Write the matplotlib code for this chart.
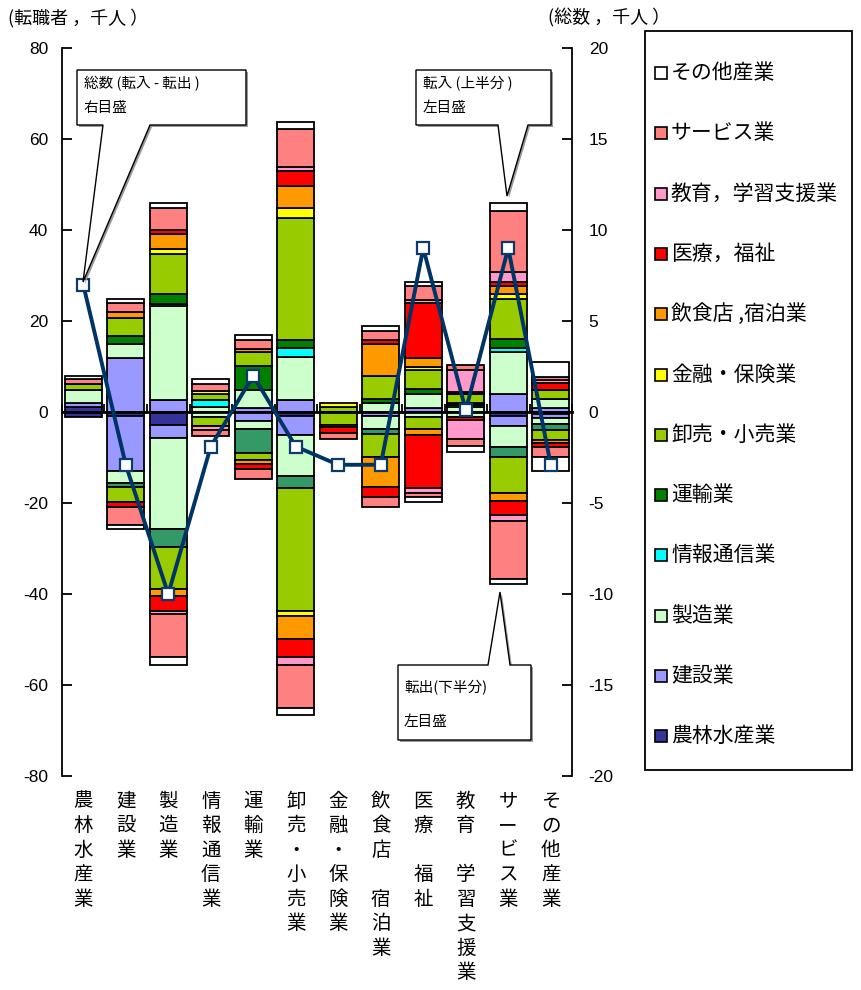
import matplotlib
matplotlib.use("Agg")
import matplotlib.pyplot as plt
from matplotlib.patches import Polygon, Rectangle
import numpy as np

plt.rcParams['font.family'] = ['Noto Sans CJK JP', 'DejaVu Sans']
plt.rcParams['axes.unicode_minus'] = False

industries = ["農林水産業", "建設業", "製造業", "情報通信業", "運輸業", "卸売・小売業",
              "金融・保険業", "飲食店，宿泊業", "医療，福祉", "教育，学習支援業", "サービス業", "その他産業"]
axis_labels = ["農林水産業", "建設業", "製造業", "情報通信業", "運輸業", "卸売・小売業",
               "金融・保険業", "飲食店 宿泊業", "医療 福祉", "教育 学習支援業", "サービス業", "その他産業"]
legend_labels = ["農林水産業", "建設業", "製造業", "情報通信業", "運輸業", "卸売・小売業",
                 "金融・保険業", "飲食店 ,宿泊業", "医療，福祉", "教育，学習支援業", "サービス業", "その他産業"]

colors_in = ["#333399", "#9999FF", "#CCFFCC", "#00FFFF", "#008000", "#99CC00",
             "#FFFF00", "#FF9900", "#FF0000", "#FF99CC", "#FF8080", "#FFFFFF"]
colors_out = ["#333399", "#9999FF", "#CCFFCC", "#00FFFF", "#339966", "#99CC00",
              "#FFFF00", "#FF9900", "#FF0000", "#FF99CC", "#FF8080", "#FFFFFF"]

# 転入 (thousand persons), one list per previous industry, values per bar
in_agri = [1.1, 0, 0, 0, 0, 0, 0, 0, 0, 0, 0, 0]
in_constr = [0.9, 11.8, 2.7, 0, 0.8, 2.7, 0, 0, 0.9, 0, 4.0, 0.9]
in_manuf = [2.9, 3.1, 20.6, 1.0, 4.0, 9.3, 0, 1.9, 3.1, 1.1, 9.2, 1.9]
in_info = [0, 0, 0.5, 1.6, 0, 2.1, 0, 0, 0, 0.5, 0.9, 0]
in_trans = [0, 1.8, 2.1, 0, 5.4, 1.8, 0, 0.9, 1.0, 0.3, 1.9, 0]
in_trade = [1.3, 3.9, 8.9, 1.4, 3.0, 26.8, 1.0, 5.1, 4.3, 2.0, 8.8, 2.1]
in_fin = [0, 0, 1.1, 0.6, 0, 2.2, 0.9, 0, 0.6, 0, 1.1, 0]
in_food = [0, 1.4, 3.3, 0, 0.6, 4.7, 0, 7.0, 2.0, 0, 1.7, 0]
in_med = [0, 0, 0.9, 0, 0, 3.3, 0, 1.0, 12.1, 0.6, 1.0, 1.4]
in_edu = [0, 0, 0, 0, 0, 0.9, 0, 0, 0.6, 4.8, 2.2, 0.7]
in_serv = [1.0, 1.9, 4.8, 1.6, 2.1, 8.3, 0, 2.0, 3.2, 1.0, 13.3, 0.8]
in_other = [0.8, 0.9, 1.0, 1.1, 1.0, 1.7, 0, 1.1, 0.8, 0, 1.8, 3.2]

# 転出 (thousand persons), one list per next industry, values per bar
out_agri = [1.0, 0.9, 2.9, 0, 0, 0.8, 0, 0, 0, 0, 0.9, 0.4]
out_constr = [0, 12.0, 2.9, 0, 1.9, 4.3, 0, 0.9, 0, 0, 2.1, 1.0]
out_manuf = [0, 2.6, 20.0, 1.0, 1.9, 8.9, 0, 2.8, 1.2, 1.1, 4.8, 1.3]
out_info = [0, 0, 0, 0, 0, 0, 0, 0, 0, 0, 0, 0]
out_trans = [0, 0.9, 3.9, 0, 5.3, 2.6, 0, 1.2, 0, 0, 2.0, 1.3]
out_trade = [0, 3.4, 9.3, 2.0, 1.5, 27.2, 2.8, 5.0, 2.6, 0, 8.1, 2.2]
out_fin = [0, 0, 0, 0, 0, 1.0, 0.6, 0, 0, 0, 0, 0]
out_food = [0, 0, 1.5, 0, 0.8, 5.1, 0, 6.6, 1.2, 0, 1.6, 0.6]
out_med = [0, 1.1, 3.2, 0, 1.2, 4.0, 1.3, 2.2, 11.6, 0.7, 3.2, 0.8]
out_edu = [0, 0, 0.8, 0.9, 0, 1.7, 0, 0, 1.2, 4.1, 1.2, 0]
out_serv = [0, 4.0, 9.4, 1.4, 2.1, 9.4, 1.3, 2.2, 0.9, 1.6, 12.9, 2.3]
out_other = [0, 0.8, 1.6, 0, 0, 1.6, 0, 0, 1.0, 1.4, 0.9, 3.0]

# 総数 (転入 - 転出), right axis
net_total = [7.0, -2.9, -10.0, -1.9, 2.0, -1.9, -2.9, -2.9, 9.0, 0.1, 9.0, -2.9]

series_in = [in_agri, in_constr, in_manuf, in_info, in_trans, in_trade,
             in_fin, in_food, in_med, in_edu, in_serv, in_other]
series_out = [out_agri, out_constr, out_manuf, out_info, out_trans, out_trade,
              out_fin, out_food, out_med, out_edu, out_serv, out_other]

fig = plt.figure(figsize=(8.62, 9.9), dpi=100)
ax = fig.add_axes([62 / 862, 1 - 776 / 990, 510 / 862, 728 / 990])

x = np.arange(len(industries))
width = 0.88

bottom = np.zeros(len(x))
for vals, col in zip(series_in, colors_in):
    v = np.array(vals, dtype=float)
    m = v > 0
    ax.bar(x[m], v[m], width, bottom=bottom[m], color=col, edgecolor="black",
           linewidth=1.3, zorder=2)
    bottom += v

bottom = np.zeros(len(x))
for vals, col in zip(series_out, colors_out):
    v = -np.array(vals, dtype=float)
    m = v < 0
    ax.bar(x[m], v[m], width, bottom=bottom[m], color=col, edgecolor="black",
           linewidth=1.3, zorder=2)
    bottom += v

ax.set_xlim(-0.5, len(x) - 0.5)
ax.set_ylim(-80, 80)
ax.set_yticks(np.arange(-80, 81, 20))
ax.spines["top"].set_visible(False)
ax.spines["bottom"].set_position(("data", 0))
ax.spines["bottom"].set_linewidth(2)
ax.spines["bottom"].set_zorder(3)
ax.spines["left"].set_linewidth(1.3)
ax.spines["right"].set_visible(False)
ax.set_xticks(np.arange(-0.5, len(x), 1))
ax.tick_params(axis="x", direction="in", length=6, width=1.3, labelbottom=False)
ax.tick_params(axis="y", direction="in", length=7, width=1.3, labelsize=12.5, pad=10)
for lab in ax.get_yticklabels():
    lab.set_fontfamily("Liberation Sans")

ax2 = ax.twinx()
ax2.set_ylim(-20, 20)
ax2.set_yticks(np.arange(-20, 21, 5))
for s in ["top", "bottom", "left"]:
    ax2.spines[s].set_visible(False)
ax2.spines["right"].set_linewidth(1.3)
ax2.tick_params(axis="y", direction="in", length=7, width=1.3, labelsize=12.5, pad=12)
for lab in ax2.get_yticklabels():
    lab.set_fontfamily("Liberation Sans")
ax2.plot(x, net_total, color="#003366", linewidth=2.8, marker="s", markersize=9,
         markerfacecolor="white", markeredgecolor="#0B3A6B", markeredgewidth=1.6, zorder=5)

# vertical category labels
for xi, name in zip(x, axis_labels):
    ax.text(xi, -83.2, "\n".join(name), ha="center", va="top", fontsize=14,
            linespacing=1.22, transform=ax.transData, clip_on=False)

# overlay in pixel coordinates for legend, callouts and axis titles
ov = fig.add_axes([0, 0, 1, 1], facecolor="none")
ov.set_xlim(0, 862)
ov.set_ylim(990, 0)
ov.axis("off")

ov.text(8, 18, "(転職者 ，千人 ）", fontsize=13, va="center", ha="left")
ov.text(548, 18, "(総数 ，千人 ）", fontsize=13, va="center", ha="left")

# legend
ov.add_patch(Rectangle((645, 31), 207, 739, facecolor="white", edgecolor="black", linewidth=1.3))
for i in range(len(industries)):
    k = len(industries) - 1 - i
    yc = 73 + i * 60.3
    ov.add_patch(Rectangle((655, yc - 6), 12, 12, facecolor=colors_in[k],
                           edgecolor="black", linewidth=1.2))
    ov.text(671, yc, legend_labels[k], fontsize=15, va="center", ha="left")


def callout(pts, shadow=True):
    if shadow:
        ov.add_patch(Polygon([(px + 2, py + 2) for px, py in pts], closed=True,
                             facecolor="#999999", edgecolor="none"))
    ov.add_patch(Polygon(pts, closed=True, facecolor="white", edgecolor="black", linewidth=1.0))


callout([(77, 70), (246, 70), (246, 125), (150, 125), (83, 282), (103, 125), (77, 125)])
ov.text(84, 84, "総数 (転入 - 転出 )", fontsize=10.5, va="center")
ov.text(84, 108, "右目盛", fontsize=10.5, va="center")

callout([(416, 70), (551, 70), (551, 125), (528, 125), (507, 196), (498, 125), (416, 125)])
ov.text(423, 84, "転入 (上半分 )", fontsize=10.5, va="center")
ov.text(423, 108, "左目盛", fontsize=10.5, va="center")

callout([(398, 665), (488, 665), (500, 592), (510, 665), (531, 665), (531, 740), (398, 740)])
ov.text(404, 688, "転出(下半分)", fontsize=10.5, va="center")
ov.text(404, 722, "左目盛", fontsize=10.5, va="center")

fig.savefig("out.png", dpi=100)
